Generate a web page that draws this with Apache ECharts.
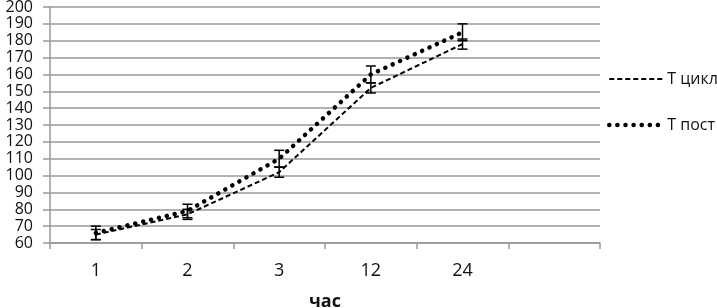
<!DOCTYPE html>
<html>
<head>
<meta charset="utf-8">
<script src="https://cdn.jsdelivr.net/npm/echarts@6/dist/echarts.min.js"></script>
<style>
  html, body { margin: 0; padding: 0; background: #fff; }
  #chart { width: 717px; height: 308px; }
</style>
</head>
<body>
<div id="chart"></div>
<script>
// categories (hours), the last slot is empty
const categories = ['1', '2', '3', '12', '24', ''];
const tCycle = [65, 77, 102, 152, 178];
const tPost = [66, 79, 110, 160, 185];
const tCycleErr = [3, 3, 3, 3, 3];
const tPostErr = [4, 4, 5, 5, 5];
const yMin = 60, yMax = 200, yStep = 10;

// [index, low, high] for the error bars
function errData(vals, errs) {
  return vals.map((v, i) => [i, v - errs[i], v + errs[i]]);
}

function renderErr(params, api) {
  const x = api.value(0);
  const lo = api.coord([x, api.value(1)]);
  const hi = api.coord([x, api.value(2)]);
  const half = 5;
  const style = { stroke: '#000', lineWidth: 1.5 };
  return {
    type: 'group',
    children: [
      { type: 'line', shape: { x1: lo[0], y1: lo[1], x2: hi[0], y2: hi[1] }, style: style },
      { type: 'line', shape: { x1: lo[0] - half, y1: lo[1], x2: lo[0] + half, y2: lo[1] }, style: style },
      { type: 'line', shape: { x1: hi[0] - half, y1: hi[1], x2: hi[0] + half, y2: hi[1] }, style: style }
    ]
  };
}

const chart = echarts.init(document.getElementById('chart'));
const font = '"Open Sans", Lato, sans-serif';
const dashed = { color: '#000', width: 2, type: [5, 3] };
const dotted = { color: '#000', width: 4.5, type: [0.1, 8], cap: 'round' };

const option = {
  animation: false,
  textStyle: { fontFamily: font },
  grid: { left: 50, right: 117, top: 7, bottom: 65, containLabel: false, outerBoundsMode: 'none' },
  legend: {
    orient: 'vertical',
    left: 602,
    top: 66,
    itemWidth: 53,
    itemHeight: 18,
    itemGap: 30,
    itemStyle: { opacity: 0 },
    data: [
      { name: 'Т цикл', lineStyle: dashed },
      { name: 'Т пост', lineStyle: dotted }
    ],
    textStyle: { fontSize: 16, color: '#111', fontFamily: font }
  },
  xAxis: {
    type: 'category',
    data: categories,
    boundaryGap: true,
    name: 'час',
    nameLocation: 'middle',
    nameGap: 50,
    nameTextStyle: { fontSize: 18, fontWeight: 'bold', color: '#111', fontFamily: font },
    axisLine: { lineStyle: { color: '#999', width: 1.5 } },
    axisTick: { show: true, length: 6, alignWithLabel: false, lineStyle: { color: '#999', width: 1.5 } },
    axisLabel: { fontSize: 18, color: '#111', margin: 19 },
    splitLine: { show: false }
  },
  yAxis: {
    type: 'value',
    min: yMin,
    max: yMax,
    interval: yStep,
    axisLine: { show: true, lineStyle: { color: '#999', width: 1.5 } },
    axisTick: { show: true, length: 7, lineStyle: { color: '#999', width: 1.5 } },
    axisLabel: {
      fontSize: 16, color: '#111', margin: 17,
      showMinLabel: true, showMaxLabel: true, hideOverlap: false
    },
    splitLine: { lineStyle: { color: '#999', width: 1.5 } }
  },
  series: [
    {
      name: 'Т цикл',
      type: 'line',
      data: tCycle,
      symbol: 'none',
      color: '#000',
      lineStyle: dashed,
      z: 3
    },
    {
      name: 'Т пост',
      type: 'line',
      data: tPost,
      symbol: 'none',
      color: '#000',
      lineStyle: dotted,
      z: 3
    },
    {
      type: 'custom',
      renderItem: renderErr,
      data: errData(tCycle, tCycleErr),
      encode: { x: 0, y: [1, 2] },
      z: 4
    },
    {
      type: 'custom',
      renderItem: renderErr,
      data: errData(tPost, tPostErr),
      encode: { x: 0, y: [1, 2] },
      z: 4
    }
  ]
};
chart.setOption(option);
</script>
</body>
</html>
